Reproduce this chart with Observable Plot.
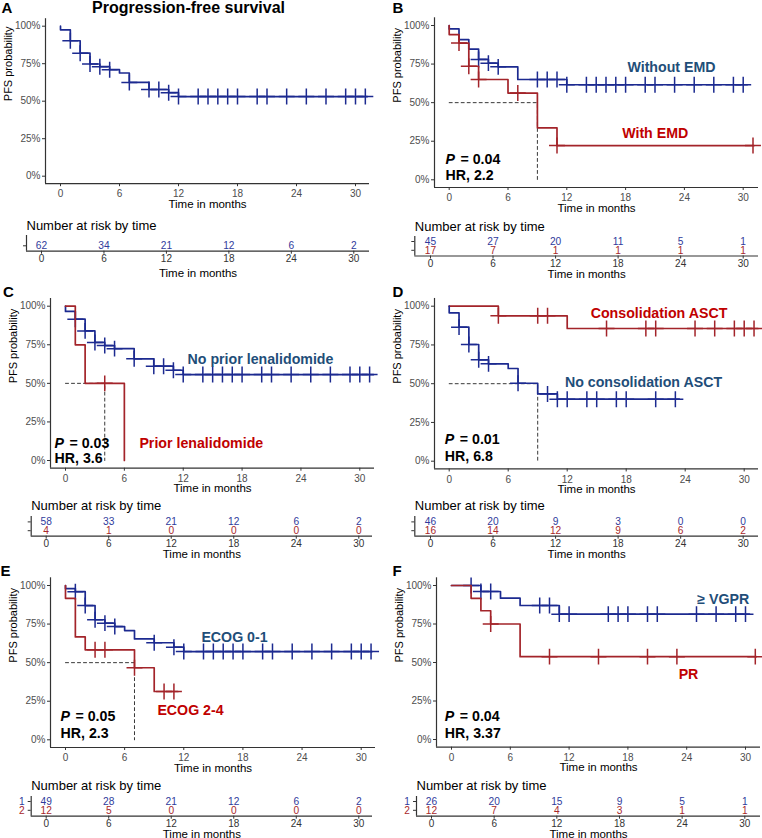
<!DOCTYPE html>
<html><head><meta charset="utf-8">
<script src="https://cdn.jsdelivr.net/npm/d3@7"></script>
<script src="https://cdn.jsdelivr.net/npm/@observablehq/plot@0.6"></script>
<style>
html,body{margin:0;padding:0;background:#fff;overflow:hidden;}
#root{position:relative;width:762px;height:838px;overflow:hidden;font-family:"Liberation Sans",Arial,Helvetica,sans-serif;}
.abs{position:absolute;}
.lbl{position:absolute;font-weight:bold;white-space:nowrap;line-height:1;color:#000;}
</style></head><body><div id="root"></div>
<script>
// ---------------- DATA ----------------
const monthTicks = [0, 6, 12, 18, 24, 30];
const probTicks = [0, 0.25, 0.5, 0.75, 1];

// Panel A: overall PFS
const aTimes = [0, 1, 2, 3, 4, 5, 6, 7, 9, 11, 12];
const aSurv = [0.976, 0.903, 0.82, 0.748, 0.73, 0.71, 0.688, 0.625, 0.578, 0.557, 0.531];
const aCensor = [1, 2, 3, 4, 5, 7, 9, 10, 11, 12, 14, 15, 16, 17, 18, 20, 21, 23, 25, 27, 29, 30, 31];
const aEnd = 31.2;
const aRisk = [62, 34, 21, 12, 6, 2];

// Panel B: Without EMD (blue) / With EMD (red)
const bBlueTimes = [0, 1, 2, 3, 4, 5, 7, 12];
const bBlueSurv = [0.978, 0.909, 0.847, 0.78, 0.756, 0.732, 0.65, 0.616];
const bBlueCensor = [3, 4, 5, 9, 10, 11, 12, 14, 15, 16, 17, 18, 20, 21, 23, 25, 27, 29, 30];
const bBlueEnd = 30.4;
const bRedTimes = [0, 1, 2, 3, 6, 9, 11];
const bRedSurv = [0.941, 0.886, 0.736, 0.65, 0.562, 0.337, 0.222];
const bRedCensor = [1, 2, 3, 7, 11, 31];
const bRedEnd = 31.1;
const bMedian = 9;
const bRiskBlue = [45, 27, 20, 11, 5, 1];
const bRiskRed = [17, 7, 1, 1, 1, 1];

// Panel C: No prior lenalidomide (blue) / Prior lenalidomide (red)
const cBlueTimes = [0, 1, 2, 3, 4, 5, 7, 9, 11, 12];
const cBlueSurv = [0.966, 0.916, 0.84, 0.765, 0.745, 0.725, 0.659, 0.611, 0.585, 0.557];
const cBlueCensor = [1, 2, 3, 4, 5, 7, 9, 10, 11, 12, 14, 15, 16, 17, 18, 20, 21, 23, 25, 27, 29, 30, 31];
const cBlueEnd = 31.4;
const cRedTimes = [1, 2, 6];
const cRedSurv = [0.75, 0.5, 0];
const cRedCensor = [4];
const cRedEnd = 6;
const cMedian = 4;
const cRiskBlue = [58, 33, 21, 12, 6, 2];
const cRiskRed = [4, 1, 0, 0, 0, 0];

// Panel D: No consolidation ASCT (blue) / Consolidation ASCT (red)
const dBlueTimes = [0, 1, 2, 3, 4, 6, 7, 9, 11];
const dBlueSurv = [0.957, 0.865, 0.753, 0.654, 0.628, 0.598, 0.503, 0.434, 0.40];
const dBlueCensor = [1, 2, 3, 4, 7, 10, 11, 12, 14, 15, 17, 18, 21, 23];
const dBlueEnd = 23.4;
const dRedTimes = [5, 12];
const dRedSurv = [0.938, 0.856];
const dRedCensor = [5, 9, 10, 16, 20, 21, 25, 27, 29, 30, 31];
const dRedEnd = 31.4;
const dMedian = 9;
const dRiskBlue = [46, 20, 9, 3, 0, 0];
const dRiskRed = [16, 14, 12, 9, 6, 2];

// Panel E: ECOG 0-1 (blue) / ECOG 2-4 (red)
const eBlueTimes = [0, 1, 2, 3, 4, 5, 6, 7, 9, 11, 12];
const eBlueSurv = [0.98, 0.96, 0.87, 0.778, 0.756, 0.734, 0.708, 0.654, 0.629, 0.60, 0.572];
const eBlueCensor = [1, 2, 3, 4, 5, 9, 11, 12, 14, 15, 16, 17, 18, 20, 21, 23, 25, 27, 29, 30, 31];
const eBlueEnd = 31.1;
const eRedTimes = [0, 1, 2, 7, 9];
const eRedSurv = [0.917, 0.667, 0.583, 0.467, 0.313];
const eRedCensor = [3, 4, 7, 10, 11];
const eRedEnd = 11.4;
const eMedian = 7;
const eRiskBlue = [49, 28, 21, 12, 6, 2];
const eRiskRed = [12, 5, 0, 0, 0, 0];

// Panel F: >= VGPR (blue) / PR (red)
const fBlueTimes = [3, 5, 7, 11];
const fBlueSurv = [0.961, 0.918, 0.87, 0.814];
const fBlueCensor = [2, 3, 4, 9, 10, 11, 12, 16, 17, 18, 20, 21, 25, 27, 29, 30];
const fBlueEnd = 30.4;
const fRedTimes = [2, 3, 4, 7];
const fRedSurv = [0.917, 0.836, 0.75, 0.538];
const fRedCensor = [4, 10, 15, 20, 23, 31];
const fRedEnd = 31.1;
const fRiskBlue = [26, 20, 15, 9, 5, 1];
const fRiskRed = [12, 7, 4, 3, 1, 1];

// ---------------- STYLE ----------------
const FONT = "Liberation Sans, Arial, Helvetica, sans-serif";
const lineBlue = "#1c2a90", lineRed = "#a3242a";
const textBlue = "#1f4e79", textRed = "#c00000";
const numBlue = "#2f3b9c", numRed = "#a8282c";

// ---------------- HELPERS ----------------
const root = document.getElementById("root");
function place(node, left, top) {
  const d = document.createElement("div");
  d.className = "abs"; d.style.left = left + "px"; d.style.top = top + "px";
  d.appendChild(node); root.appendChild(d);
}
function htmlText(txt, left, baseline, size, extra) {
  const d = document.createElement("div");
  d.className = "lbl"; d.textContent = txt;
  d.style.fontSize = size + "px";
  d.style.left = left + "px"; d.style.top = (baseline - 0.8465 * size) + "px";
  if (extra) Object.assign(d.style, extra);
  root.appendChild(d);
}
function stepAt(times, surv, t) { let s = 1; times.forEach((tt, i) => { if (tt <= t) s = surv[i]; }); return s; }
function curvePoints(times, surv, end) {
  const pts = [{t: 0, s: 1}];
  times.forEach((t, i) => pts.push({t, s: surv[i]}));
  pts.push({t: end, s: surv[surv.length - 1]});
  return pts;
}
const mid = fs => 0.32 * fs;

function kmPanel(L, curves, median, labels, pv) {
  const k = (L.x30 - L.x0) / 30;
  const ySpan = L.y0 - L.y100;
  const yTop = L.y100 - 0.05 * ySpan, yBot = L.y0 + 0.05 * ySpan;
  const height = Math.ceil(yBot - L.top + 30);
  const toT = px => (px - L.x0) / k;
  const toS = py => (L.y0 - py) / ySpan;
  const xDom = [toT(L.axisL), toT(L.axisR)];
  const marks = [];
  if (median != null) {
    marks.push(Plot.line([{t: 0, s: 0.5}, {t: median, s: 0.5}, {t: median, s: 0}],
      {x: "t", y: "s", stroke: "#222", strokeWidth: 0.9, strokeDasharray: "3,3"}));
  }
  curves.forEach(c => {
    marks.push(Plot.line(curvePoints(c.times, c.surv, c.end),
      {x: "t", y: "s", curve: "step-after", stroke: c.color, strokeWidth: 1.7}));
    marks.push(Plot.dot(c.censor.map(t => ({t, s: stepAt(c.times, c.surv, t)})),
      {x: "t", y: "s", symbol: "plus", r: 5.2, stroke: c.color, strokeWidth: 1.5}));
  });
  labels.forEach(l => {
    marks.push(Plot.text([{t: toT(l.px), s: toS(l.py), label: l.text}],
      {x: "t", y: "s", text: "label", fill: l.color, fontSize: 14.2, fontWeight: "bold", textAnchor: "middle", lineAnchor: "middle"}));
  });
  if (pv) {
    marks.push(Plot.text([{t: toT(pv.px), s: toS(pv.py1), label: "P"}],
      {x: "t", y: "s", text: "label", fill: "#000", fontSize: 14.2, fontWeight: "bold", fontStyle: "italic", textAnchor: "start", lineAnchor: "middle"}));
    marks.push(Plot.text([{t: toT(pv.px + 15), s: toS(pv.py1), label: "= " + pv.p}],
      {x: "t", y: "s", text: "label", fill: "#000", fontSize: 14.2, fontWeight: "bold", textAnchor: "start", lineAnchor: "middle"}));
    marks.push(Plot.text([{t: toT(pv.px), s: toS(pv.py2), label: "HR, " + pv.hr}],
      {x: "t", y: "s", text: "label", fill: "#000", fontSize: 14.2, fontWeight: "bold", textAnchor: "start", lineAnchor: "middle"}));
  }
  marks.push(Plot.ruleX([xDom[0]], {stroke: "#333", strokeWidth: 1.2}));
  marks.push(Plot.ruleY([-0.05], {stroke: "#333", strokeWidth: 1.2}));
  marks.push(Plot.axisX({ticks: monthTicks, tickSize: 3, tickPadding: 3.5, fontSize: 10, label: null, stroke: "#333"}));
  marks.push(Plot.axisY({ticks: probTicks, tickFormat: d => Math.round(d * 100) + "%", tickSize: 3, tickPadding: 2, fontSize: 10, label: null, stroke: "#333"}));
  marks.push(Plot.text(["Time in months"], {frameAnchor: "bottom", lineAnchor: "middle", dy: 24.2 - mid(11.5), fontSize: 11.5, fill: "#000"}));
  marks.push(Plot.text(["PFS probability"], {frameAnchor: "left", lineAnchor: "middle", dx: -37, rotate: -90, fontSize: 11, fill: "#000"}));
  const svg = Plot.plot({
    width: 381, height,
    marginLeft: L.axisL - L.left, marginRight: L.left + 381 - L.axisR,
    marginTop: yTop - L.top, marginBottom: L.top + height - yBot,
    x: {domain: xDom}, y: {domain: [-0.05, 1.05]},
    style: {fontFamily: FONT, fontSize: "10px", color: "#4d4d4d", background: "transparent", overflow: "visible"},
    marks
  });
  place(svg, L.left, L.top);
}

function riskPanel(R, strata, showNames) {
  const k = (R.x30 - R.x0) / 30;
  const sp = 8.8;
  const r1 = R.rows[0];
  const iTop = 1 + (R.frameTop - r1) / sp, iBot = 1 + (R.axis - r1) / sp;
  const svgTop = R.frameTop - 24;
  const height = Math.ceil(R.axis + 27 - svgTop);
  const xDom = [(R.axisL - R.x0) / k, (R.axisR - R.x0) / k];
  const marks = [];
  strata.forEach((st, j) => {
    marks.push(Plot.text(monthTicks.map((t, m) => ({t, i: j + 1, n: st.counts[m]})),
      {x: "t", y: "i", text: d => String(d.n), fill: st.color, fontSize: 10.2, lineAnchor: "middle"}));
    if (showNames) {
      marks.push(Plot.text([{i: j + 1, label: String(j + 1)}],
        {y: "i", text: "label", frameAnchor: "left", dx: -6.5, textAnchor: "end", fill: st.color, fontSize: 10.2, lineAnchor: "middle"}));
    }
  });
  marks.push(Plot.ruleX([xDom[0]], {stroke: "#333", strokeWidth: 1.2}));
  marks.push(Plot.ruleY([iBot], {stroke: "#333", strokeWidth: 1.2}));
  marks.push(Plot.axisY({ticks: strata.map((s, j) => j + 1), tickFormat: () => "", tickSize: 3, label: null, stroke: "#333"}));
  marks.push(Plot.axisX({ticks: monthTicks, tickSize: 3, tickPadding: 1, fontSize: 10, label: null, stroke: "#333"}));
  marks.push(Plot.text(["Number at risk by time"], {frameAnchor: "top-left", textAnchor: "start", lineAnchor: "middle", dy: R.titleBase - mid(13) - R.frameTop, fontSize: 13, fill: "#000"}));
  marks.push(Plot.text(["Time in months"], {frameAnchor: "bottom", lineAnchor: "middle", dy: R.xTitleBase - mid(11.5) - R.axis, fontSize: 11.5, fill: "#000"}));
  const svg = Plot.plot({
    width: 381, height,
    marginLeft: R.axisL - R.left, marginRight: R.left + 381 - R.axisR,
    marginTop: R.frameTop - svgTop, marginBottom: svgTop + height - R.axis,
    x: {domain: xDom}, y: {domain: [iBot, iTop]},
    style: {fontFamily: FONT, fontSize: "10px", color: "#333", background: "transparent", overflow: "visible"},
    marks
  });
  place(svg, R.left, svgTop);
}

// ---------------- LAYOUT & DRAW ----------------
kmPanel({left: 0, top: 0, axisL: 45, axisR: 369, x0: 60, x30: 355, y100: 25.7, y0: 175.7},
  [{times: aTimes, surv: aSurv, censor: aCensor, end: aEnd, color: lineBlue}], null, [], null);
kmPanel({left: 381, top: 0, axisL: 434, axisR: 758, x0: 448.7, x30: 742.7, y100: 25, y0: 179.3},
  [{times: bBlueTimes, surv: bBlueSurv, censor: bBlueCensor, end: bBlueEnd, color: lineBlue},
   {times: bRedTimes, surv: bRedSurv, censor: bRedCensor, end: bRedEnd, color: lineRed}], bMedian,
  [{text: "Without EMD", px: 671, py: 67, color: textBlue}, {text: "With EMD", px: 654.7, py: 133, color: textRed}],
  {px: 445, py1: 158.7, py2: 175, p: "0.04", hr: "2.2"});
kmPanel({left: 0, top: 280, axisL: 50, axisR: 374, x0: 65, x30: 359.3, y100: 305.7, y0: 460},
  [{times: cBlueTimes, surv: cBlueSurv, censor: cBlueCensor, end: cBlueEnd, color: lineBlue},
   {times: cRedTimes, surv: cRedSurv, censor: cRedCensor, end: cRedEnd, color: lineRed}], cMedian,
  [{text: "No prior lenalidomide", px: 260, py: 358.5, color: textBlue}, {text: "Prior lenalidomide", px: 200.8, py: 443, color: textRed}],
  {px: 54, py1: 443, py2: 457.5, p: "0.03", hr: "3.6"});
kmPanel({left: 381, top: 280, axisL: 434, axisR: 758, x0: 448.7, x30: 743.7, y100: 305.7, y0: 460.7},
  [{times: dRedTimes, surv: dRedSurv, censor: dRedCensor, end: dRedEnd, color: lineRed},
   {times: dBlueTimes, surv: dBlueSurv, censor: dBlueCensor, end: dBlueEnd, color: lineBlue}], dMedian,
  [{text: "Consolidation ASCT", px: 658.5, py: 313, color: textRed}, {text: "No consolidation ASCT", px: 643, py: 381.5, color: textBlue}],
  {px: 444.3, py1: 439, py2: 456, p: "0.01", hr: "6.8"});
kmPanel({left: 0, top: 560, axisL: 50, axisR: 375, x0: 65, x30: 360.7, y100: 585, y0: 739.3},
  [{times: eBlueTimes, surv: eBlueSurv, censor: eBlueCensor, end: eBlueEnd, color: lineBlue},
   {times: eRedTimes, surv: eRedSurv, censor: eRedCensor, end: eRedEnd, color: lineRed}], eMedian,
  [{text: "ECOG 0-1", px: 234, py: 636.7, color: textBlue}, {text: "ECOG 2-4", px: 190, py: 710, color: textRed}],
  {px: 60, py1: 716, py2: 732.5, p: "0.05", hr: "2.3"});
kmPanel({left: 381, top: 560, axisL: 436, axisR: 760, x0: 451, x30: 745, y100: 585, y0: 739},
  [{times: fBlueTimes, surv: fBlueSurv, censor: fBlueCensor, end: fBlueEnd, color: lineBlue},
   {times: fRedTimes, surv: fRedSurv, censor: fRedCensor, end: fRedEnd, color: lineRed}], null,
  [{text: "\u2265 VGPR", px: 722.7, py: 598.7, color: textBlue}, {text: "PR", px: 688, py: 673.5, color: textRed}],
  {px: 444.3, py1: 716, py2: 732.5, p: "0.04", hr: "3.37"});

riskPanel({left: 0, axisL: 26, axisR: 369, x0: 41, x30: 353.3, frameTop: 235, axis: 250.7, rows: [245.3], titleBase: 229.3, xTitleBase: 276.7},
  [{counts: aRisk, color: numBlue}], false);
riskPanel({left: 381, axisL: 414.3, axisR: 758, x0: 430, x30: 742.7, frameTop: 235.5, axis: 255, rows: [240.5], titleBase: 229.5, xTitleBase: 277},
  [{counts: bRiskBlue, color: numBlue}, {counts: bRiskRed, color: numRed}], false);
riskPanel({left: 0, axisL: 30.7, axisR: 372, x0: 45.7, x30: 358.3, frameTop: 516, axis: 535.7, rows: [521.4], titleBase: 509.5, xTitleBase: 557.3},
  [{counts: cRiskBlue, color: numBlue}, {counts: cRiskRed, color: numRed}], false);
riskPanel({left: 381, axisL: 414.3, axisR: 758, x0: 430, x30: 742.7, frameTop: 516, axis: 535.7, rows: [521.4], titleBase: 509.5, xTitleBase: 557.3},
  [{counts: dRiskBlue, color: numBlue}, {counts: dRiskRed, color: numRed}], false);
riskPanel({left: 0, axisL: 30.7, axisR: 372, x0: 45.7, x30: 358.3, frameTop: 796, axis: 815.7, rows: [801], titleBase: 789.5, xTitleBase: 837},
  [{counts: eRiskBlue, color: numBlue}, {counts: eRiskRed, color: numRed}], true);
riskPanel({left: 381, axisL: 416, axisR: 760, x0: 431, x30: 744.3, frameTop: 796, axis: 815.7, rows: [801], titleBase: 789.5, xTitleBase: 837},
  [{counts: fRiskBlue, color: numBlue}, {counts: fRiskRed, color: numRed}], true);

// Panel letters and title
htmlText("Progression-free survival", 0, 13.3, 16, {width: "377px", textAlign: "center"});
htmlText("A", 1.5, 13, 15);
htmlText("B", 392.5, 12.7, 15);
htmlText("C", 3, 297, 15);
htmlText("D", 392.5, 297, 15);
htmlText("E", 0.5, 576, 15);
htmlText("F", 392.5, 576, 15);
</script></body></html>
